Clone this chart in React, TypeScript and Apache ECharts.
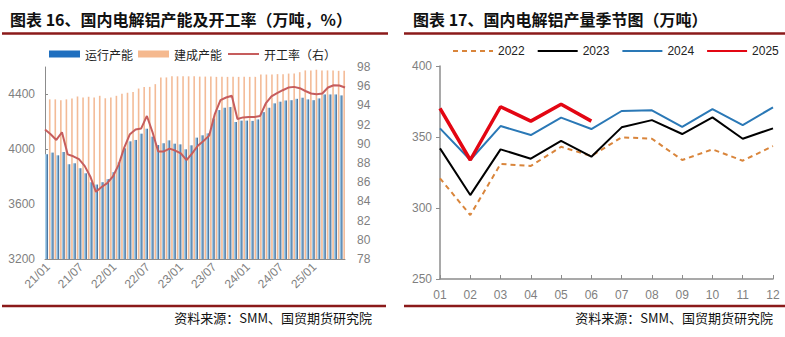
import React, { useEffect, useRef } from "react";
import * as echarts from "echarts";

// ---------- Left chart data ----------
const months: string[] = [
  "21/01","21/02","21/03","21/04","21/05","21/06","21/07","21/08","21/09","21/10","21/11","21/12",
  "22/01","22/02","22/03","22/04","22/05","22/06","22/07","22/08","22/09","22/10","22/11","22/12",
  "23/01","23/02","23/03","23/04","23/05","23/06","23/07","23/08","23/09","23/10","23/11","23/12",
  "24/01","24/02","24/03","24/04","24/05","24/06","24/07","24/08","24/09","24/10","24/11","24/12",
  "25/01","25/02","25/03","25/04","25/05","25/06",
];
const runningCapacity: number[] = [
  3964, 3976, 3956, 3981, 3891, 3898, 3862, 3825, 3760, 3743, 3760, 3782,
  3833, 3905, 4007, 4058, 4068, 4114, 4150, 4092, 4031, 4044, 4065, 4041,
  4036, 4000, 4029, 4085, 4102, 4116, 4225, 4286, 4303, 4308, 4199, 4209,
  4209, 4207, 4218, 4271, 4303, 4335, 4347, 4356, 4358, 4368, 4376, 4364,
  4358, 4371, 4400, 4400, 4400, 4393,
];
const builtCapacity: number[] = [
  4364, 4364, 4357, 4364, 4370, 4385, 4378, 4383, 4378, 4390, 4372, 4378,
  4390, 4405, 4412, 4418, 4443, 4455, 4455, 4475, 4524, 4524, 4532, 4532,
  4532, 4532, 4532, 4530, 4530, 4530, 4528, 4528, 4528, 4528, 4528, 4528,
  4528, 4528, 4545, 4545, 4545, 4548, 4548, 4552, 4552, 4562, 4575, 4575,
  4580, 4575, 4575, 4575, 4572, 4572,
];
const operatingRate: number[] = [
  91.5, 91.0, 90.4, 91.2, 88.9, 88.7, 88.4, 87.7, 86.6, 85.0, 85.5, 85.9,
  86.6, 87.8, 89.6, 91.0, 91.5, 91.6, 92.9, 91.2, 89.2, 89.2, 89.5, 89.3,
  89.0, 88.3, 89.0, 89.8, 90.3, 90.85, 93.1, 94.55, 94.82, 95.0, 92.58, 92.75,
  92.8, 92.8, 92.9, 94.2, 94.93, 95.27, 95.58, 95.86, 95.93, 95.79, 95.5, 95.24,
  95.17, 95.24, 95.86, 96.1, 96.07, 95.86,
];

// ---------- Right chart data ----------
const monthLabels: string[] = ["01","02","03","04","05","06","07","08","09","10","11","12"];
const output2022: number[] = [320.9, 295.0, 331.0, 329.6, 343.1, 336.6, 349.8, 348.8, 333.8, 341.3, 333.3, 343.6];
const output2023: number[] = [342.0, 309.1, 341.3, 334.7, 347.2, 336.1, 356.8, 361.9, 352.1, 363.8, 348.8, 356.1];
const output2024: number[] = [356.1, 333.8, 357.7, 351.4, 363.6, 355.6, 368.3, 368.8, 357.2, 369.7, 358.4, 370.9];
const output2025: number[] = [370.2, 333.8, 371.3, 361.2, 373.0, 361.2];

const GRAY = "#7f7f7f";
const AXIS = "#8c8c8c";
const DARKRED = "#8b1a1a";
const SANS = "'Liberation Sans', Arial, sans-serif";
const CJK = "'Noto Sans CJK SC', sans-serif";

export default function App() {
  const ref = useRef<HTMLDivElement>(null);

  useEffect(() => {
    if (!ref.current) return;
    const chart = echarts.init(ref.current, undefined, { renderer: "svg" });

    const blueGrad = new echarts.graphic.LinearGradient(0, 0, 1, 0, [
      { offset: 0, color: "#bfe6fb" },
      { offset: 0.45, color: "#86b2d6" },
      { offset: 1, color: "#2f5d8c" },
    ]);

    const plain = (v: number) => String(v);

    const option: any = {
      animation: false,
      backgroundColor: "#ffffff",
      graphic: [
        { type: "text", left: 10, top: 11, style: { text: "图表 16、国内电解铝产能及开工率（万吨，%）", font: `bold 16px ${CJK}`, fill: "#111" } },
        { type: "text", left: 413, top: 11, style: { text: "图表 17、国内电解铝产量季节图（万吨）", font: `bold 16px ${CJK}`, fill: "#111" } },
        { type: "line", shape: { x1: 2, y1: 33.5, x2: 388, y2: 33.5 }, style: { stroke: DARKRED, lineWidth: 2.5 } },
        { type: "line", shape: { x1: 404, y1: 33.5, x2: 785, y2: 33.5 }, style: { stroke: DARKRED, lineWidth: 2.5 } },
        { type: "line", shape: { x1: 2, y1: 306, x2: 386, y2: 306 }, style: { stroke: DARKRED, lineWidth: 2.5 } },
        { type: "line", shape: { x1: 404, y1: 306, x2: 785, y2: 306 }, style: { stroke: DARKRED, lineWidth: 2.5 } },
        { type: "text", right: 785 - 372, top: 311, style: { text: "资料来源：SMM、国贸期货研究院", font: `13px ${CJK}`, fill: "#111" } },
        { type: "text", right: 12, top: 311, style: { text: "资料来源：SMM、国贸期货研究院", font: `13px ${CJK}`, fill: "#111" } },
      ],
      legend: [
        {
          left: 49, top: 48, padding: 0, itemWidth: 31, itemHeight: 7, itemGap: 5,
          textStyle: { fontFamily: CJK, fontSize: 12, color: "#222" },
          data: [
            { name: "运行产能", icon: "rect", itemStyle: { color: "#1f6fbf" } },
            { name: "建成产能", icon: "rect", itemStyle: { color: "#f4b183" } },
            { name: "开工率（右）", itemStyle: { opacity: 0 } },
          ],
        },
        {
          left: 452, top: 45, padding: 0, width: 340, itemWidth: 40, itemHeight: 12, itemGap: 12,
          textStyle: { fontFamily: SANS, fontSize: 12, color: "#222" },
          itemStyle: { opacity: 0 },
          data: ["2022", "2023", "2024", "2025"],
        },
      ],
      grid: [
        { left: 45, right: 440, top: 67, bottom: 78 },
        { left: 440, right: 12, top: 66, bottom: 58 },
      ],
      xAxis: [
        {
          type: "category", gridIndex: 0, data: months, boundaryGap: true,
          axisLine: { lineStyle: { color: AXIS } },
          axisTick: { show: false },
          axisLabel: { interval: 5, rotate: 45, color: GRAY, fontSize: 12, fontFamily: SANS, margin: 6 },
        },
        {
          type: "category", gridIndex: 0, data: months, boundaryGap: false, show: false,
        },
        {
          type: "category", gridIndex: 1, data: monthLabels, boundaryGap: false,
          axisLine: { lineStyle: { color: AXIS, width: 1.5 } },
          axisTick: { inside: true, length: 4, lineStyle: { color: AXIS } },
          axisLabel: { color: GRAY, fontSize: 12, fontFamily: SANS, margin: 10 },
        },
      ],
      yAxis: [
        {
          type: "value", gridIndex: 0, min: 3200, max: 4600, interval: 400,
          splitLine: { show: false },
          axisLine: { show: true, lineStyle: { color: AXIS } },
          axisTick: { show: true, inside: true, length: 3, lineStyle: { color: AXIS } },
          axisLabel: { color: GRAY, fontSize: 12, fontFamily: SANS, showMaxLabel: false, margin: 10, formatter: plain },
        },
        {
          type: "value", gridIndex: 0, min: 78, max: 98, interval: 2, position: "right",
          splitLine: { show: false },
          axisLine: { show: false },
          axisTick: { show: false },
          axisLabel: { color: GRAY, fontSize: 12, fontFamily: SANS, margin: 12, formatter: plain },
        },
        {
          type: "value", gridIndex: 1, min: 250, max: 400, interval: 50,
          splitLine: { show: false },
          axisLine: { show: true, lineStyle: { color: AXIS, width: 1.5 } },
          axisTick: { show: true, length: 4, lineStyle: { color: AXIS } },
          axisLabel: { color: GRAY, fontSize: 12, fontFamily: SANS, margin: 8, formatter: plain },
        },
      ],
      series: [
        {
          name: "运行产能", type: "bar", xAxisIndex: 0, yAxisIndex: 0,
          data: runningCapacity, barWidth: 3, barGap: "30%",
          itemStyle: { color: blueGrad },
        },
        {
          name: "建成产能", type: "bar", xAxisIndex: 0, yAxisIndex: 0,
          data: builtCapacity, barWidth: 1.6, barGap: "30%",
          itemStyle: { color: "#f2b48c", opacity: 0.9 },
        },
        {
          name: "开工率（右）", type: "line", xAxisIndex: 1, yAxisIndex: 1,
          data: operatingRate, symbol: "none", z: 5,
          lineStyle: { color: "#c65d5d", width: 2 }, itemStyle: { color: "#c65d5d" },
        },
        {
          name: "2022", type: "line", xAxisIndex: 2, yAxisIndex: 2, data: output2022, symbol: "none",
          lineStyle: { color: "#d9853b", width: 2, type: [5, 4] }, itemStyle: { color: "#d9853b" },
        },
        {
          name: "2023", type: "line", xAxisIndex: 2, yAxisIndex: 2, data: output2023, symbol: "none",
          lineStyle: { color: "#000000", width: 2 }, itemStyle: { color: "#000000" },
        },
        {
          name: "2024", type: "line", xAxisIndex: 2, yAxisIndex: 2, data: output2024, symbol: "none",
          lineStyle: { color: "#2a78b6", width: 2 }, itemStyle: { color: "#2a78b6" },
        },
        {
          name: "2025", type: "line", xAxisIndex: 2, yAxisIndex: 2, data: output2025, symbol: "none", z: 6,
          lineStyle: { color: "#e30613", width: 3.5 }, itemStyle: { color: "#e30613" },
        },
      ],
    };

    chart.setOption(option);
    return () => chart.dispose();
  }, []);

  return (
    <div
      ref={ref}
      style={{ position: "absolute", left: 0, top: 0, width: 785, height: 337, background: "#fff" }}
    />
  );
}
